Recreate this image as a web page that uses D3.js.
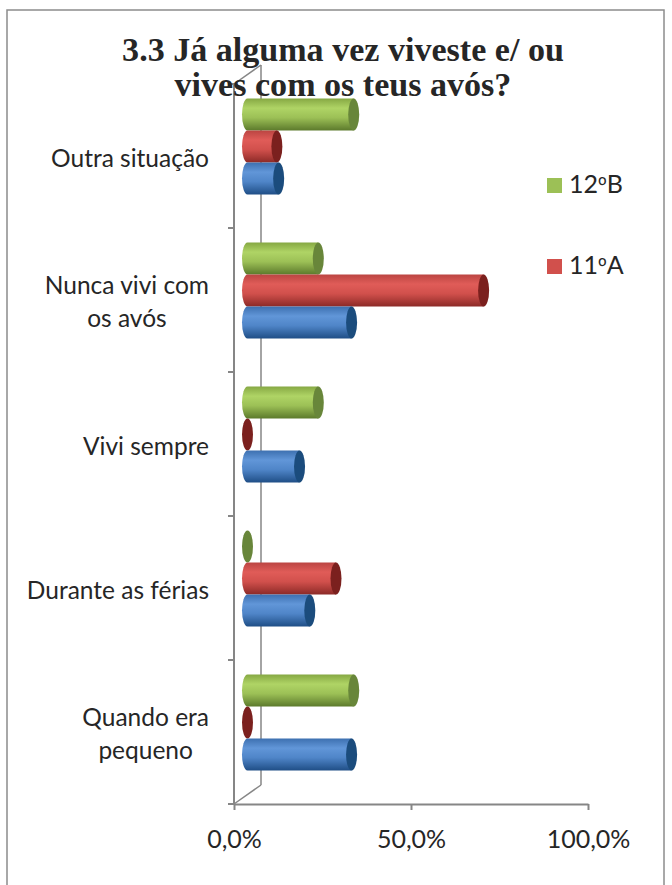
<!DOCTYPE html>
<html lang="pt">
<head>
<meta charset="UTF-8">
<title>3.3 Já alguma vez viveste e/ ou vives com os teus avós?</title>
<script src="https://cdn.jsdelivr.net/npm/d3@7"></script>
<style>
  body { margin: 0; background: #fff; }
  text { fill: #262626; }
</style>
</head>
<body>
<script>
// categories, top to bottom
var categories = ["Outra situação", "Nunca vivi com os avós", "Vivi sempre", "Durante as férias", "Quando era pequeno"];
var labelLines = [["Outra situação"], ["Nunca vivi com", "os avós"], ["Vivi sempre"], ["Durante as férias"], ["Quando era", "pequeno"]];

// series values (fraction), same order as categories
var serie12B = [0.30, 0.20, 0.20, 0, 0.30];
var serie11A = [0.083, 0.667, 0, 0.25, 0];
var serieAzul = [0.088, 0.294, 0.147, 0.176, 0.294];

var xTicks = [0, 0.5, 1];
var titleLines = ["3.3 Já alguma vez viveste e/ ou", "vives com os teus avós?"];

// series drawn top to bottom inside each category
var series = [
  {name: "12ºB", values: serie12B, light: "#afd465", mid: "#9cc056", top: "#86a843", dark: "#5c7a2c", cap: "#68863a"},
  {name: "11ºA", values: serie11A, light: "#e05c58", mid: "#d1504c", top: "#bb4542", dark: "#8c2a27", cap: "#7b201e"},
  {name: null, values: serieAzul, light: "#6196d8", mid: "#4f85c8", top: "#3d70b0", dark: "#1f4e86", cap: "#1b4c7d"}
];

var W = 672, H = 885;
var svg = d3.select("body").append("svg").attr("width", W).attr("height", H);

// outer frame (bottom edge is out of the picture)
svg.append("rect").attr("x", 7).attr("y", 10).attr("width", 657).attr("height", 900)
  .attr("fill", "none").attr("stroke", "#8c8c8c").attr("stroke-width", 1.5);

var x = d3.scaleLinear().domain([0, 1]).range([234, 588]);
var y = d3.scaleBand().domain(categories).range([84, 804]);
var inner = d3.scaleBand().domain(d3.range(series.length)).range([0, y.bandwidth()]).paddingOuter(0.75);
var depthX = 27, depthY = -19;
var axisColor = "#868686";

// back wall edge + depth lines
svg.append("line").attr("x1", x(0) + depthX).attr("y1", 84 + depthY).attr("x2", x(0) + depthX).attr("y2", 804 + depthY)
  .attr("stroke", axisColor).attr("stroke-width", 1.5);
svg.append("line").attr("x1", x(0)).attr("y1", 84).attr("x2", x(0) + depthX).attr("y2", 84 + depthY)
  .attr("stroke", axisColor).attr("stroke-width", 1.5);
svg.append("line").attr("x1", x(0)).attr("y1", 804).attr("x2", x(0) + depthX).attr("y2", 804 + depthY)
  .attr("stroke", axisColor).attr("stroke-width", 1.5);

// front vertical axis + category ticks
svg.append("line").attr("x1", x(0)).attr("y1", 84).attr("x2", x(0)).attr("y2", 804)
  .attr("stroke", axisColor).attr("stroke-width", 2);
var bounds = categories.map(function (c) { return y(c); }).concat([y.range()[1]]);
svg.selectAll(".ctick").data(bounds).enter().append("line")
  .attr("x1", x(0) - 6).attr("x2", x(0)).attr("y1", function (d) { return d; }).attr("y2", function (d) { return d; })
  .attr("stroke", axisColor).attr("stroke-width", 2);

// value axis
var fmt = function (d) { return d3.format(".1f")(d * 100).replace(".", ",") + "%"; };
var gx = svg.append("g").attr("transform", "translate(0,804)")
  .call(d3.axisBottom(x).tickValues(xTicks).tickFormat(fmt).tickSizeOuter(0).tickSizeInner(6).tickPadding(20));
gx.select(".domain").attr("stroke", axisColor).attr("stroke-width", 2);
gx.selectAll(".tick line").attr("stroke", axisColor).attr("stroke-width", 2);
gx.selectAll(".tick text").attr("font-family", "Lato, 'Open Sans', sans-serif").attr("font-size", 25).attr("fill", "#262626");

// gradients
var defs = svg.append("defs");
series.forEach(function (s, i) {
  var g = defs.append("linearGradient").attr("id", "cyl" + i).attr("x1", 0).attr("y1", 0).attr("x2", 0).attr("y2", 1);
  g.append("stop").attr("offset", 0).attr("stop-color", s.top);
  g.append("stop").attr("offset", 0.3).attr("stop-color", s.light);
  g.append("stop").attr("offset", 0.6).attr("stop-color", s.mid);
  g.append("stop").attr("offset", 1).attr("stop-color", s.dark);
});

// cylinders
var rx = 5.5;
var bars = [];
categories.forEach(function (c, ci) {
  series.forEach(function (s, si) {
    bars.push({c: c, si: si, v: s.values[ci]});
  });
});
var gb = svg.append("g");
bars.forEach(function (b) {
  var r = inner.bandwidth() / 2;
  var yc = y(b.c) + inner(b.si) + r + depthY / 2;
  var x0 = x(0) + depthX / 2;
  var x1 = x(b.v) + depthX / 2;
  var s = series[b.si];
  if (b.v > 0) {
    gb.append("path")
      .attr("d", "M" + x0 + "," + (yc - r) + "L" + x1 + "," + (yc - r) + "L" + x1 + "," + (yc + r) +
        "L" + x0 + "," + (yc + r) + "A" + rx + "," + r + " 0 0 1 " + x0 + "," + (yc - r) + "Z")
      .attr("fill", "url(#cyl" + b.si + ")");
  }
  gb.append("ellipse").attr("cx", x1).attr("cy", yc).attr("rx", rx).attr("ry", r).attr("fill", s.cap);
});

// category labels: block right-aligned, lines centered in block
var labelFont = "Lato, 'Open Sans', sans-serif";
var labelSize = 24.5, lineH = 33;
categories.forEach(function (c, ci) {
  var lines = labelLines[ci];
  var g = svg.append("g");
  var texts = lines.map(function (l) {
    return g.append("text").attr("font-family", labelFont).attr("font-size", labelSize).text(l);
  });
  var widths = texts.map(function (t) { return t.node().getComputedTextLength(); });
  var bw = d3.max(widths);
  var cx = 209 - bw / 2;
  var cy = y(c) + y.bandwidth() / 2 + 2;
  texts.forEach(function (t, i) {
    var lc = cy + (i - (lines.length - 1) / 2) * lineH;
    t.attr("x", cx).attr("y", lc + 8.5).attr("text-anchor", "middle");
  });
});

// legend (only two entries visible); ordinal sign in Noto Sans for the underlined glyph
var legendItems = series.filter(function (s) { return s.name; });
var lg = svg.selectAll(".leg").data(legendItems).enter().append("g")
  .attr("transform", function (d, i) { return "translate(547," + (178 + i * 81) + ")"; });
lg.append("rect").attr("width", 15).attr("height", 15).attr("fill", function (d) { return d.mid; });
var lt = lg.append("text").attr("x", 22).attr("y", 15).attr("font-family", labelFont).attr("font-size", 25);
lt.each(function (d) {
  var parts = d.name.split("º");
  var t = d3.select(this);
  t.append("tspan").text(parts[0]);
  t.append("tspan").attr("font-family", "'Noto Sans', 'DejaVu Sans', sans-serif").attr("font-size", 23).text("º");
  t.append("tspan").text(parts[1]);
});

// title
var tt = svg.append("g");
var t1 = tt.append("text").attr("x", 343).attr("y", 61).attr("text-anchor", "middle")
  .attr("font-family", "'Liberation Serif', 'DejaVu Serif', serif").attr("font-weight", "bold").attr("font-size", 30)
  .text(titleLines[0]);
var scale = 442 / t1.node().getComputedTextLength();
var ts = 30 * scale;
t1.attr("font-size", ts);
tt.append("text").attr("x", 343).attr("y", 96).attr("text-anchor", "middle")
  .attr("font-family", "'Liberation Serif', 'DejaVu Serif', serif").attr("font-weight", "bold").attr("font-size", ts)
  .text(titleLines[1]);
</script>
</body>
</html>
